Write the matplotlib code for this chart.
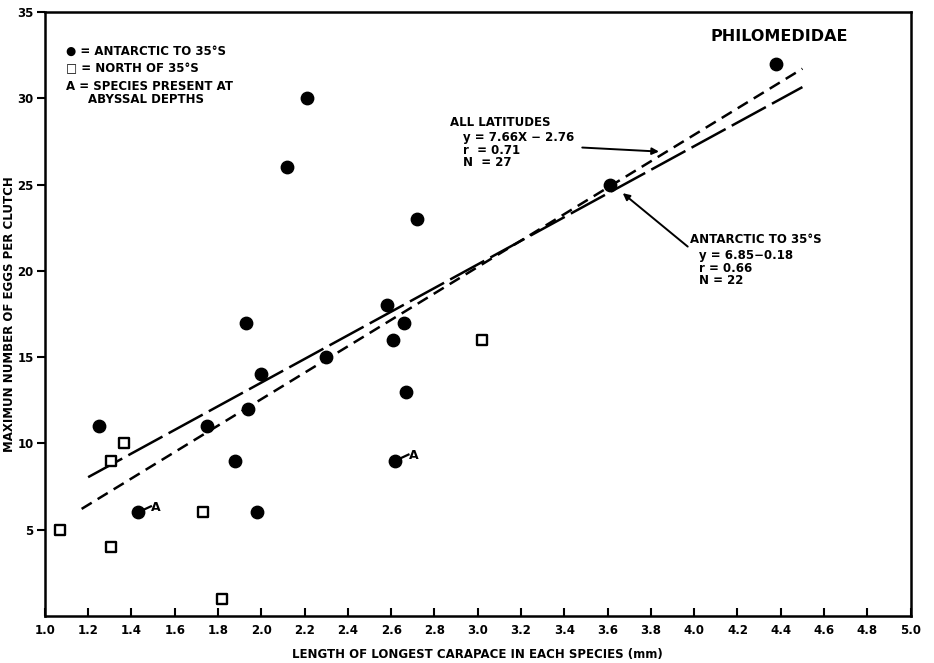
import numpy as np
import matplotlib.pyplot as plt

# data
ant_x = [1.25, 1.43, 1.75, 1.88, 1.94, 1.98, 1.93, 2.00, 2.12, 2.21, 2.30,
         2.58, 2.61, 2.66, 2.67, 2.62, 2.72, 3.61, 4.38]
ant_y = [11, 6, 11, 9, 12, 6, 17, 14, 26, 30, 15,
         18, 16, 17, 13, 9, 23, 25, 32]
north_x = [1.07, 1.305, 1.365, 1.305, 1.73, 1.82, 3.02]
north_y = [5, 9, 10, 4, 6, 1, 16]
abyssal_x = [1.43, 2.62]
abyssal_y = [6, 9]

# regression lines (as printed on the figure)
all_slope, all_icpt = 7.66, -2.76
all_range = [1.17, 4.5]
ant_slope, ant_icpt = 6.85, -0.18
ant_range = [1.2, 4.5]

xticks = np.arange(1.0, 5.01, 0.2)
yticks = [5, 10, 15, 20, 25, 30, 35]

plt.rcParams['font.family'] = 'DejaVu Sans'
plt.rcParams['font.weight'] = 'bold'
plt.rcParams['lines.scale_dashes'] = False

fig = plt.figure(figsize=(9.34, 6.63), dpi=100)
ax = fig.add_axes([0.048, 0.071, 0.927, 0.911])

xa = np.array(all_range)
ax.plot(xa, all_slope * xa + all_icpt, color='black', lw=1.8,
        dashes=(8.5, 5))
xb = np.array(ant_range)
ax.plot(xb, ant_slope * xb + ant_icpt, color='black', lw=1.8,
        dashes=(28, 5))

ax.scatter(ant_x, ant_y, s=80, color='black', zorder=3)
ax.scatter(north_x, north_y, s=45, marker='s', facecolor='white',
           edgecolor='black', linewidth=1.7, zorder=3)

for x, y in zip(abyssal_x, abyssal_y):
    ax.plot([x, x + 0.06], [y, y + 0.35], color='black', lw=1.6)
    ax.text(x + 0.06, y + 0.3, 'A', fontsize=9, fontweight='bold',
            va='center', ha='left')

ax.set_xlim(1.0, 5.0)
ax.set_ylim(0, 35)
ax.set_xticks(xticks)
ax.set_xticklabels(['%.1f' % t for t in xticks], fontsize=8.5, fontweight='bold')
ax.set_yticks(yticks)
ax.set_yticklabels([str(t) for t in yticks], fontsize=8.5, fontweight='bold')
ax.tick_params(axis='x', direction='in', length=6, width=1.5, pad=6)
ax.tick_params(axis='y', direction='out', length=6, width=1.5, pad=2)
for s in ax.spines.values():
    s.set_linewidth(1.8)

ax.set_xlabel('LENGTH OF LONGEST CARAPACE IN EACH SPECIES (mm)',
              fontsize=8.5, fontweight='bold', labelpad=8)
ax.set_ylabel('MAXIMUN NUMBER OF EGGS PER CLUTCH',
              fontsize=8.5, fontweight='bold')
ax.yaxis.set_label_coords(-0.033, 0.5)

ax.text(4.395, 33.6, 'PHILOMEDIDAE', fontsize=11.5, fontweight='bold',
        ha='center', va='center')

# key in the upper left
ax.text(1.10, 32.7, '\u25CF = ANTARCTIC TO 35\u00B0S', fontsize=8.5,
        fontweight='bold', va='center')
ax.text(1.10, 31.7, '\u25A1 = NORTH OF 35\u00B0S', fontsize=8.5,
        fontweight='bold', va='center')
ax.text(1.10, 30.7, 'A = SPECIES PRESENT AT', fontsize=8.5,
        fontweight='bold', va='center')
ax.text(1.20, 29.95, 'ABYSSAL DEPTHS', fontsize=8.5,
        fontweight='bold', va='center')

# line labels
ax.text(2.87, 28.6, 'ALL LATITUDES', fontsize=8.5, fontweight='bold',
        va='center')
ax.text(2.93, 28.1, 'y = 7.66X \u2212 2.76\nr  = 0.71\nN  = 27', fontsize=8.5,
        fontweight='bold', va='top', linespacing=0.95)
ax.annotate('', xy=(3.85, 26.9), xytext=(3.47, 27.15),
            arrowprops=dict(arrowstyle='-|>', color='black', lw=1.4,
                            mutation_scale=10))

ax.text(3.98, 21.8, 'ANTARCTIC TO 35\u00B0S', fontsize=8.5, fontweight='bold',
        va='center')
ax.text(4.02, 21.25, 'y = 6.85\u22120.18\nr = 0.66\nN = 22', fontsize=8.5,
        fontweight='bold', va='top', linespacing=0.95)
ax.annotate('', xy=(3.66, 24.6), xytext=(3.98, 21.3),
            arrowprops=dict(arrowstyle='-|>', color='black', lw=1.4,
                            mutation_scale=10))

fig.savefig('out.png', dpi=100)
